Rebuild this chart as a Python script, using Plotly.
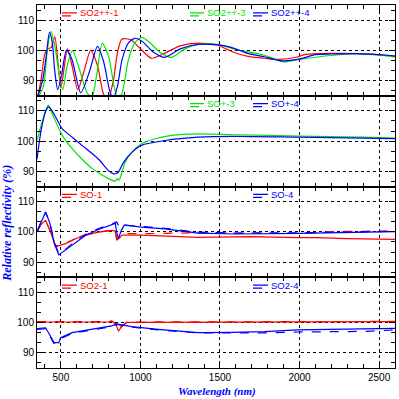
import plotly.graph_objects as go
from plotly.subplots import make_subplots

RED = "#ff0000"
GREEN = "#00e600"
BLUE = "#0000ff"

# ---------------- Panel 1 : SO2++ ----------------
p1_red_wl = [350, 375, 400, 420, 440, 462, 480, 500, 520, 541, 570, 606, 645, 687, 730, 765, 792, 830, 855, 883, 940,
             1006, 1070, 1150, 1250, 1362, 1487, 1571, 1675, 1779, 1862, 1987, 2029, 2196, 2362, 2571, 2600]
p1_red = [84, 90, 99, 100.5, 101, 104.5, 97, 87.5, 94, 100.5, 95, 87, 93, 100, 95, 86, 83, 90, 99, 103.7, 103.5,
          100.2, 97.4, 99, 101.5, 102.4, 101.7, 99.7, 98, 97.4, 97, 97.8, 98.6, 99, 98.9, 98.2, 98]

p1_blue_wl = [350, 385, 410, 428, 445, 462, 480, 505, 535, 570, 625, 680, 730, 770, 805, 828, 855, 885, 925, 965,
              1010, 1080, 1154, 1250, 1362, 1487, 1571, 1675, 1779, 1880, 1987, 2100, 2196, 2362, 2571, 2600]
p1_blue = [84, 90, 99, 106, 103, 93, 87, 92, 100, 97, 86, 93, 101.3, 96, 87, 84, 88, 97, 102.5, 104,
           103, 99.5, 97.7, 100.5, 102, 101.8, 101, 99, 97.9, 96.6, 97, 98.6, 98.8, 98.9, 98.3, 98.1]

p1_green_wl = [350, 390, 415, 437, 460, 490, 512, 540, 573, 615, 665, 695, 725, 760, 800, 835, 858, 885, 925, 965,
               1010, 1060, 1120, 1196, 1280, 1362, 1487, 1600, 1779, 1900, 2000, 2196, 2362, 2571, 2600]
p1_green = [84, 88, 100, 106.3, 102, 92, 87, 95, 100, 94, 86, 84.5, 92, 102.4, 98, 88, 84, 86, 97, 102.5,
            104.3, 102.5, 99.5, 97.7, 100.5, 102, 102, 100.3, 98.4, 96.2, 97, 98.3, 98.9, 98.0, 97.8]

# ---------------- Panel 2 : SO+ ----------------
p2_green_wl = [350, 379, 410, 421, 446, 508, 571, 633, 696, 758, 810, 842, 855, 862, 870, 904, 946, 1006, 1092,
               1196, 1362, 1600, 2000, 2400, 2600]
p2_green = [100.2, 105.8, 110.8, 111.9, 109, 102, 97.5, 94, 91, 88.8, 87.3, 86.8, 87.6, 87, 87.5, 93, 96.3,
            99.1, 100.8, 101.9, 102.4, 102.1, 101.7, 101.3, 101]

p2_blue_wl = [350, 365, 385, 405, 425, 445, 467, 508, 571, 633, 737, 800, 831, 848, 862, 894, 946, 1006, 1154,
              1362, 1600, 2000, 2400, 2600]
p2_blue = [94, 100, 106, 110, 111.3, 110, 108, 104.1, 101.3, 98.6, 94, 90.2, 89.2, 89.3, 89.8, 93, 96.3, 98.6,
           100.2, 101.3, 101.6, 101.3, 101, 100.8]

# ---------------- Panel 3 : SO ----------------
p3_red_wl = [350, 375, 404, 435, 467, 529, 633, 737, 821, 840, 852, 870, 885, 920, 1006, 1362, 1700, 1987, 2100,
             2300, 2500, 2600]
p3_red = [100, 102.5, 103.8, 100, 95.1, 96.1, 98.7, 99.9, 100.5, 100.3, 97.3, 98, 98.9, 98.9, 98.9, 98.2, 98.4,
          98.1, 98.1, 97.8, 97.6, 97.5]
p3_red_d_wl = [350, 375, 404, 435, 467, 529, 633, 737, 821, 840, 852, 870, 885, 920, 1006, 1362, 1700, 1987, 2200,
               2400, 2600]
p3_red_d = [100, 102.5, 103.8, 100, 95.3, 96.3, 98.8, 100, 100.5, 100.3, 97.5, 98.5, 99.4, 99.4, 99.4, 99.7, 99.5,
            99.5, 100.1, 100.2, 100.3]

p3_blue_wl = [350, 375, 404, 430, 460, 487, 530, 571, 654, 737, 821, 842, 852, 862, 880, 900, 1006, 1154, 1362,
              1600, 2000, 2300, 2600]
p3_blue = [100, 103, 106.6, 103, 96, 92.4, 94, 95.8, 98.8, 100.8, 102.5, 102.8, 99.5, 97.8, 100.5, 102.3, 101.6,
           101, 99.6, 99.3, 99.5, 99.8, 100.1]
p3_blue_d_wl = [350, 375, 404, 430, 460, 487, 530, 571, 654, 737, 821, 850, 870, 890, 1006, 1154, 1362, 1600,
                2000, 2300, 2600]
p3_blue_d = [100, 103.3, 106.4, 103.2, 96.5, 92.8, 94.3, 96.1, 99.1, 101.1, 102.6, 103.3, 101.5, 102.2, 101.8,
             101.2, 99.9, 99.6, 99.7, 100, 100.2]

# ---------------- Panel 4 : SO2 ----------------
p4_red_wl = [350, 600, 800, 820, 845, 862, 880, 915, 1200, 1600, 2000, 2400, 2600]
p4_red = [100.2, 100.2, 100.2, 100.5, 99.5, 97.2, 98.5, 100.1, 100.1, 100.1, 100.2, 100.3, 100.3]
p4_red_d = [100.3, 100.3, 100.3, 100.6, 99.7, 97.5, 98.8, 100.2, 100.2, 100.3, 100.3, 100.4, 100.4]

p4_blue_wl = [350, 404, 430, 456, 487, 498, 570, 695, 820, 850, 900, 945, 1112, 1362, 1571, 1779, 1987, 2196,
              2404, 2571, 2600]
p4_blue = [98, 98.3, 96, 93.5, 93.3, 95, 96.7, 97.8, 98.9, 99.6, 99.2, 98.7, 97.8, 96.7, 96.8, 97, 97.6, 97.8,
           97.8, 98, 98.1]
p4_blue_d = [97.8, 98.0, 95.6, 93.2, 93.6, 94.7, 96.4, 97.6, 98.7, 99.4, 99.0, 98.5, 97.6, 96.6, 96.6, 96.6, 96.9,
             96.9, 97.1, 97.5, 97.8]

# legend labels per panel: (row, text, colour, sample start, sample end)
legend_items = [
    (1, "SO2++-1", RED, 507, 601),
    (1, "SO2++-3", GREEN, 1312, 1400),
    (1, "SO2++-4", BLUE, 1708, 1802),
    (2, "SO+-3", GREEN, 1312, 1400),
    (2, "SO+-4", BLUE, 1708, 1802),
    (3, "SO-1", RED, 507, 601),
    (3, "SO-4", BLUE, 1708, 1802),
    (4, "SO2-1", RED, 507, 601),
    (4, "SO2-4", BLUE, 1708, 1802),
]

x_ticks = [500, 1000, 1500, 2000, 2500]
y_ticks = [90, 100, 110]

fig = make_subplots(rows=4, cols=1, shared_xaxes=True, vertical_spacing=0)


def add(x, y, color, row, dash="solid", spline=True):
    line = dict(color=color, width=1.2, dash=dash)
    if spline:
        line.update(shape="spline", smoothing=0.7)
    fig.add_trace(go.Scatter(x=x, y=y, mode="lines", line=line, showlegend=False, hoverinfo="skip"),
                  row=row, col=1)


add(p1_red_wl, p1_red, RED, 1)
add(p1_green_wl, p1_green, GREEN, 1)
add(p1_blue_wl, p1_blue, BLUE, 1)

add(p2_green_wl, p2_green, GREEN, 2)
add(p2_blue_wl, p2_blue, BLUE, 2)

add(p3_red_d_wl, p3_red_d, RED, 3, dash="dash", spline=False)
add(p3_red_wl, p3_red, RED, 3, spline=False)
add(p3_blue_d_wl, p3_blue_d, BLUE, 3, dash="dash", spline=False)
add(p3_blue_wl, p3_blue, BLUE, 3, spline=False)

add(p4_red_wl, p4_red_d, RED, 4, dash="dash", spline=False)
add(p4_red_wl, p4_red, RED, 4, spline=False)
add(p4_blue_wl, p4_blue_d, BLUE, 4, dash="dash", spline=False)
add(p4_blue_wl, p4_blue, BLUE, 4, spline=False)

tickfont = dict(family="Liberation Sans, Arial, sans-serif", size=10, color="black")

fig.update_xaxes(range=[350, 2600], tickmode="array", tickvals=x_ticks, ticks="inside", ticklen=6,
                 tickcolor="black", tickwidth=1, mirror="allticks", showline=True, linecolor="black",
                 linewidth=1, showgrid=True, gridcolor="black", griddash="dot", gridwidth=1,
                 minor=dict(ticks="inside", ticklen=4, tickcolor="black", dtick=100, tick0=0, showgrid=False),
                 tickfont=tickfont, zeroline=False)
fig.update_yaxes(range=[85, 115], tickmode="array", tickvals=y_ticks, ticks="inside", ticklen=6,
                 tickcolor="black", tickwidth=1, mirror="allticks", showline=True, linecolor="black",
                 linewidth=1, showgrid=True, gridcolor="black", griddash="dot", gridwidth=1,
                 minor=dict(ticks="inside", ticklen=4, tickcolor="black", dtick=10 / 3, tick0=90, showgrid=False),
                 tickfont=tickfont, zeroline=False)

legfont = dict(family="Liberation Sans, Arial, sans-serif", size=9.5)
for row, text, color, x0, x1 in legend_items:
    xr = "x" if row == 1 else f"x{row}"
    yr = "y" if row == 1 else f"y{row}"
    fig.add_shape(type="line", xref=xr, yref=yr, x0=x0, x1=x1, y0=112.4, y1=112.4,
                  line=dict(color=color, width=1.2))
    fig.add_shape(type="line", xref=xr, yref=yr, x0=x0, x1=x1, y0=111.4, y1=111.4,
                  line=dict(color=color, width=1.2, dash="dash"))
    fig.add_annotation(x=x1 + 5, y=112.4, xref=xr, yref=yr, text=text, showarrow=False,
                       xanchor="left", yanchor="middle", font=dict(color=color, **legfont))

titlefont = dict(family="Liberation Serif, Times New Roman, serif", size=11, color=BLUE,
                 weight="bold", style="italic")
fig.add_annotation(x=0.503, y=-0.066, xref="paper", yref="paper", text="Wavelength (nm)",
                   showarrow=False, xanchor="center", yanchor="middle", font=titlefont)
fig.add_annotation(x=-0.084, y=0.40, xref="paper", yref="paper", text="Relative reflectivity (%)",
                   showarrow=False, xanchor="center", yanchor="middle", textangle=-90,
                   font=dict(titlefont, size=12))

fig.update_layout(width=399, height=399, margin=dict(l=37, r=4, t=5, b=31),
                  paper_bgcolor="white", plot_bgcolor="white")

fig.write_html("out.html", config={"displayModeBar": False},
               post_script="document.body.style.margin='0';document.body.style.padding='0';"
                           "document.body.style.overflow='hidden';")
